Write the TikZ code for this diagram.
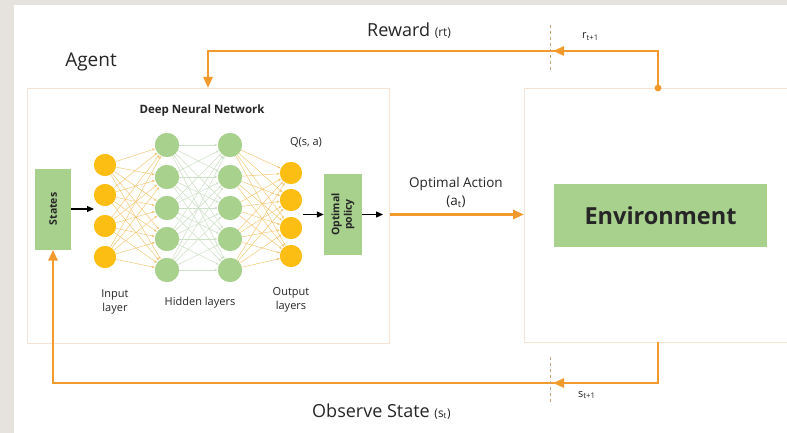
\documentclass[tikz,border=0pt]{standalone}
\usepackage{fontspec}
\setmainfont{Open Sans}
\usetikzlibrary{arrows.meta}
\definecolor{bggray}{HTML}{E6E3DE}
\definecolor{flowc}{HTML}{F39A2E}
\definecolor{nodeor}{HTML}{FDBE14}
\definecolor{nodegr}{HTML}{A9D18E}
\definecolor{boxedge}{HTML}{F6E3D3}
\definecolor{edgeor}{HTML}{F4C97A}
\definecolor{edgegr}{HTML}{CFE0C8}
\definecolor{dashc}{HTML}{C9A27A}
\definecolor{txt}{HTML}{262626}
\tikzset{
  panel/.style={draw=boxedge, line width=0.6pt, fill=white, anchor=north west},
  greenbox/.style={fill=nodegr, draw=none, text=txt},
  neuronor/.style={circle, fill=nodeor, draw=none, minimum size=22pt, inner sep=0pt},
  neurongr/.style={circle, fill=nodegr, draw=none, minimum size=24pt, inner sep=0pt},
  flow/.style={draw=flowc, line width=2.7pt},
  flowtip/.style={-{Triangle[length=11pt,width=9pt]}},
  blkarrow/.style={draw=black, line width=1.1pt, -{Triangle[length=7pt,width=6pt]}},
  sepline/.style={draw=dashc, dashed, line width=0.6pt},
  edgeo/.style={draw=edgeor, line width=0.5pt, -{Latex[length=3pt,width=2.5pt]}},
  edgeg/.style={draw=edgegr, line width=0.5pt, -{Latex[length=3pt,width=2.5pt]}},
  lbl/.style={text=txt, inner sep=0pt, align=center}
}
\begin{document}
\begin{tikzpicture}[x=1pt,y=-1pt]
\useasboundingbox (0,0) rectangle (787,433);
\fill[bggray] (0,0) rectangle (787,433);
\fill[white] (14,5) rectangle (787,433);

% panels
\node[panel, minimum width=362pt, minimum height=255pt] (agent) at (27,88) {};
\node[panel, minimum width=275pt, minimum height=254pt] (envout) at (524,88) {};
\fill[white] (787,80) rectangle (790,350);

\node[greenbox, minimum width=213pt, minimum height=63pt, font=\bfseries\fontsize{23.5}{27}\selectfont] (env) at (660.5,215.5) {Environment};

% agent contents
\node[greenbox, minimum width=36pt, minimum height=81pt] (states) at (53,209) {};
\node[lbl, rotate=90, font=\bfseries\fontsize{10.5}{12}\selectfont] (stlbl) at (states.center) {States};
\node[greenbox, minimum width=38pt, minimum height=81pt] (policy) at (343,214.5) {};
\node[lbl, rotate=90, font=\bfseries\fontsize{10.5}{12.5}\selectfont] (pllbl) at (policy.center) {Optimal\\policy};

% neurons
\foreach \y [count=\i] in {165,195,226,257} \node[neuronor] (i\i) at (105,\y) {};
\foreach \y [count=\i] in {145,177,208,239,270} \node[neurongr] (h\i) at (167,\y) {};
\foreach \y [count=\i] in {145,177,208,239,270} \node[neurongr] (g\i) at (230,\y) {};
\foreach \y [count=\i] in {173,200,228,256} \node[neuronor] (o\i) at (291,\y) {};

\foreach \a in {1,...,4} \foreach \b in {1,...,5} \draw[edgeo] (i\a) -- (h\b);
\foreach \a in {1,...,5} \foreach \b in {1,...,5} \draw[edgeg] (h\a) -- (g\b);
\foreach \a in {1,...,5} \foreach \b in {1,...,4} \draw[edgeo] (g\a) -- (o\b);
% redraw neurons on top
\foreach \y [count=\i] in {165,195,226,257} \node[neuronor] at (105,\y) {};
\foreach \y [count=\i] in {145,177,208,239,270} \node[neurongr] at (167,\y) {};
\foreach \y [count=\i] in {145,177,208,239,270} \node[neurongr] at (230,\y) {};
\foreach \y [count=\i] in {173,200,228,256} \node[neuronor] at (291,\y) {};

\coordinate (inin) at (94,209);
\coordinate (outout) at (303,214.5);
\coordinate (polout) at (383,214.5);
\draw[blkarrow] (states.east |- inin) -- (inin);
\draw[blkarrow] (outout) -- (policy.west);
\draw[blkarrow] (policy.east) -- (polout);

% labels in agent
\node[lbl, font=\bfseries\fontsize{11.5}{13}\selectfont] (dnn) at (202,111) {Deep Neural Network};
\node[lbl, font=\fontsize{11}{13}\selectfont] (q) at (306,142) {Q(s, a)};
\node[lbl, font=\fontsize{11}{14.5}\selectfont] (inl) at (115,302) {Input\\layer};
\node[lbl, font=\fontsize{11}{14.5}\selectfont] (hil) at (200,303) {Hidden layers};
\node[lbl, font=\fontsize{11}{14.5}\selectfont] (oul) at (291,300) {Output\\layers};
\node[lbl, font=\fontsize{19}{22}\selectfont] (agentlbl) at (91,62) {Agent};

% action
\draw[flow, flowtip] (agent.east |- policy.east) -- (envout.west |- policy.east);
\node[lbl, font=\fontsize{13.5}{18}\selectfont] (actlbl) at (456,192) {Optimal Action\\(a\textsubscript{t})};

% reward loop
\coordinate (rdot) at (658,88);
\coordinate (rin) at (208,88);
\draw[flow, flowtip] (rdot) -- (658,51) -| (rin);
\draw[flow, flowtip] (580,51) -- (553,51);
\fill[flowc] (rdot) circle (3.4pt);
\draw[sepline] (550,25) -- (550,73);
\node[lbl, anchor=base west, font=\fontsize{18}{20}\selectfont] (rewlbl) at (367,37) {Reward {\fontsize{12}{14}\selectfont (rt)}};
\node[lbl, anchor=base west, font=\fontsize{11}{13}\selectfont] (rt1) at (582,39) {r\textsubscript{t+1}};

% state loop
\coordinate (sout) at (658,342);
\draw[flow, flowtip] (sout) -- (658,383) -| (states.south);
\draw[flow, flowtip] (580,383) -- (553,383);
\draw[sepline] (550,357) -- (550,403);
\node[lbl, anchor=base west, font=\fontsize{11}{13}\selectfont] (st1) at (578,397) {s\textsubscript{t+1}};
\node[lbl, anchor=base west, font=\fontsize{18}{20}\selectfont] (obslbl) at (312,417) {Observe State {\fontsize{12}{14}\selectfont (s\textsubscript{t})}};
\end{tikzpicture}
\end{document}
